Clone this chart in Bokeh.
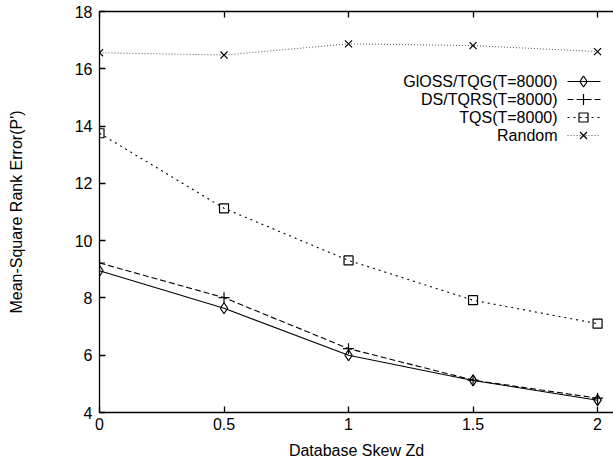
from bokeh.plotting import figure
from bokeh.models import Range1d, LinearAxis, FixedTicker, ColumnDataSource
from bokeh.core.properties import value
from bokeh.embed import file_html
from bokeh.resources import INLINE

# ---- data ----
skew = [0, 0.5, 1, 1.5, 2]
gloss = [8.95, 7.64, 6.0, 5.12, 4.43]
dstqrs = [9.22, 8.01, 6.23, 5.13, 4.5]
tqs = [13.75, 11.13, 9.31, 7.92, 7.1]
rand = [16.56, 16.48, 16.87, 16.81, 16.6]
labels = ["GlOSS/TQG(T=8000)", "DS/TQRS(T=8000)", "TQS(T=8000)", "Random"]
x_ticks = [0, 0.5, 1, 1.5, 2]
y_ticks = [4, 6, 8, 10, 12, 14, 16, 18]

FONT = "Liberation Sans"
W, H = 613, 462
L, R, T, B = 99, 0, 11, 50
X0, X1 = 0.0, 2.064
Y0, Y1 = 4.0, 18.0

p = figure(width=W, height=H, output_backend="svg", toolbar_location=None,
           x_range=Range1d(X0, X1), y_range=Range1d(Y0, Y1),
           min_border_left=L, min_border_right=R, min_border_top=T, min_border_bottom=B,
           x_axis_type=None, y_axis_type=None)
p.outline_line_color = None
p.grid.visible = False
p.background_fill_color = "white"
p.border_fill_color = "white"

def style_axis(ax):
    ax.major_tick_in = 6
    ax.major_tick_out = 0
    ax.minor_tick_line_color = None
    ax.axis_line_color = "black"
    ax.axis_line_width = 1.3
    ax.major_tick_line_color = "black"
    ax.major_tick_line_width = 1.3
    ax.major_label_text_font = FONT
    ax.major_label_text_font_size = "16px"
    ax.major_label_text_color = "black"
    ax.axis_label_text_font = FONT
    ax.axis_label_text_font_size = "16px"
    ax.axis_label_text_font_style = "normal"
    ax.axis_label_text_color = "black"

xb = LinearAxis(ticker=FixedTicker(ticks=x_ticks), axis_label="Database Skew Zd")
style_axis(xb)
xb.major_label_standoff = 5
xb.axis_label_standoff = 9
xb.major_label_overrides = {0: "0", 0.5: "0.5", 1: "1", 1.5: "1.5", 2: "2"}
p.add_layout(xb, "below")

yl = LinearAxis(ticker=FixedTicker(ticks=y_ticks), axis_label="Mean-Square Rank Error(P')")
style_axis(yl)
yl.major_label_standoff = 7
yl.axis_label_standoff = 47
p.add_layout(yl, "left")

# mirrored ticks along the top edge (no labels)
xt = LinearAxis(ticker=FixedTicker(ticks=x_ticks))
style_axis(xt)
xt.major_label_standoff = 0
xt.major_label_overrides = {t: "" for t in x_ticks}
p.add_layout(xt, "above")

styles = [
    dict(dash="solid", color="black", marker="diamond", size=11, lw=1.1),
    dict(dash="6 3", color="black", marker="cross", size=11, lw=1.1),
    dict(dash="2 4", color="black", marker="square", size=9, lw=1.1),
    dict(dash="1 2", color="#555555", marker="x", size=10, lw=1.0),
]
series = [gloss, dstqrs, tqs, rand]

for ys, st in zip(series, styles):
    src = ColumnDataSource(dict(x=skew, y=ys))
    p.line("x", "y", source=src, line_color=st["color"], line_dash=st["dash"], line_width=st["lw"])
    p.scatter("x", "y", source=src, marker=st["marker"], size=st["size"],
              line_color="black", fill_color=None, line_width=1.2)

# ---- legend (gnuplot style: text then sample), placed via pixel layout ----
fw = W - L - R
fh = H - T - B
def px2x(px):
    return X0 + (px - L) / fw * (X1 - X0)
def py2y(py):
    return Y1 - (py - T) / fh * (Y1 - Y0)

row_py = [81, 99, 117, 135]
text_right_px = 557
line_l_px, line_r_px, mark_px = 567, 600, 583
for lab, st, rp in zip(labels, styles, row_py):
    yy = py2y(rp)
    p.text(x=[px2x(text_right_px)], y=[yy], text=[lab], text_align="right",
           text_baseline="middle", text_font=value(FONT), text_font_size="16px",
           text_color="black")
    p.line([px2x(line_l_px), px2x(line_r_px)], [yy, yy], line_color=st["color"],
           line_dash=st["dash"], line_width=st["lw"])
    p.scatter([px2x(mark_px)], [yy], marker=st["marker"], size=st["size"],
              line_color="black", fill_color=None, line_width=1.2)

open("out.html", "w").write(file_html(p, INLINE))
